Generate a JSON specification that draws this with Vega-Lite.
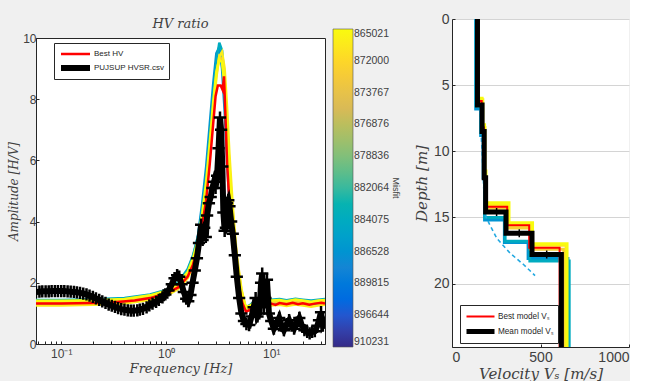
{
  "$schema": "https://vega.github.io/schema/vega-lite/v6.json",
  "background": "#f0f0f0",
  "padding": {"left": 7, "top": 9, "right": 0, "bottom": 0},
  "spacing": 14,
  "config": {
    "font": "Liberation Sans",
    "view": {"stroke": null},
    "axis": {"labelFont": "Liberation Sans", "labelColor": "#404040", "domainColor": "#262626", "tickColor": "#262626", "titleFont": "DejaVu Serif", "titleFontStyle": "italic", "titleFontWeight": "normal", "titleColor": "#404040", "grid": false, "labelOverlap": false},
    "legend": {"labelFont": "Liberation Sans", "labelColor": "#262626"}
  },
  "resolve": {"scale": {"stroke": "independent", "color": "independent", "strokeWidth": "independent", "x": "independent", "y": "independent"}},
  "datasets": {
    "ens": [
      {"id":"e5","m":3,"f":0.0575,"a":1.3},{"id":"e5","m":3,"f":0.1,"a":1.3},{"id":"e5","m":3,"f":0.2,"a":1.32},{"id":"e5","m":3,"f":0.4,"a":1.36},{"id":"e5","m":3,"f":0.7,"a":1.5},{"id":"e5","m":3,"f":1.0,"a":1.65},{"id":"e5","m":3,"f":1.3,"a":1.92},{"id":"e5","m":3,"f":1.6,"a":2.4},{"id":"e5","m":3,"f":1.8,"a":2.85},{"id":"e5","m":3,"f":2.0,"a":3.5},{"id":"e5","m":3,"f":2.2,"a":4.6},{"id":"e5","m":3,"f":2.4,"a":5.8},{"id":"e5","m":3,"f":2.6,"a":7.2},{"id":"e5","m":3,"f":2.8,"a":8.5},{"id":"e5","m":3,"f":3.0,"a":9.5},{"id":"e5","m":3,"f":3.2,"a":9.7},{"id":"e5","m":3,"f":3.4,"a":9.0},{"id":"e5","m":3,"f":3.6,"a":7.6},{"id":"e5","m":3,"f":3.8,"a":5.9},{"id":"e5","m":3,"f":4.0,"a":4.6},{"id":"e5","m":3,"f":4.3,"a":3.2},{"id":"e5","m":3,"f":4.7,"a":2.0},{"id":"e5","m":3,"f":5.2,"a":1.3},{"id":"e5","m":3,"f":5.7,"a":1.12},{"id":"e5","m":3,"f":6.3,"a":1.2},{"id":"e5","m":3,"f":7,"a":1.3},{"id":"e5","m":3,"f":8,"a":1.35},{"id":"e5","m":3,"f":9,"a":1.36},{"id":"e5","m":3,"f":10,"a":1.33},{"id":"e5","m":3,"f":12,"a":1.35},{"id":"e5","m":3,"f":14,"a":1.31},{"id":"e5","m":3,"f":17,"a":1.36},{"id":"e5","m":3,"f":20,"a":1.33},{"id":"e5","m":3,"f":24,"a":1.3},{"id":"e5","m":3,"f":28,"a":1.33},{"id":"e5","m":3,"f":32.5,"a":1.35},
      {"id":"e4","m":4,"f":0.0575,"a":1.44},{"id":"e4","m":4,"f":0.1,"a":1.44},{"id":"e4","m":4,"f":0.2,"a":1.46},{"id":"e4","m":4,"f":0.4,"a":1.5},{"id":"e4","m":4,"f":0.7,"a":1.62},{"id":"e4","m":4,"f":1.0,"a":1.77},{"id":"e4","m":4,"f":1.3,"a":2.02},{"id":"e4","m":4,"f":1.6,"a":2.45},{"id":"e4","m":4,"f":1.8,"a":2.9},{"id":"e4","m":4,"f":2.0,"a":3.5},{"id":"e4","m":4,"f":2.2,"a":4.4},{"id":"e4","m":4,"f":2.4,"a":5.5},{"id":"e4","m":4,"f":2.6,"a":6.8},{"id":"e4","m":4,"f":2.8,"a":8.1},{"id":"e4","m":4,"f":3.0,"a":9.2},{"id":"e4","m":4,"f":3.2,"a":9.85},{"id":"e4","m":4,"f":3.4,"a":9.6},{"id":"e4","m":4,"f":3.6,"a":8.6},{"id":"e4","m":4,"f":3.8,"a":6.9},{"id":"e4","m":4,"f":4.0,"a":5.4},{"id":"e4","m":4,"f":4.3,"a":3.7},{"id":"e4","m":4,"f":4.7,"a":2.4},{"id":"e4","m":4,"f":5.2,"a":1.5},{"id":"e4","m":4,"f":5.7,"a":1.2},{"id":"e4","m":4,"f":6.3,"a":1.28},{"id":"e4","m":4,"f":7,"a":1.42},{"id":"e4","m":4,"f":8,"a":1.47},{"id":"e4","m":4,"f":9,"a":1.48},{"id":"e4","m":4,"f":10,"a":1.45},{"id":"e4","m":4,"f":12,"a":1.47},{"id":"e4","m":4,"f":14,"a":1.43},{"id":"e4","m":4,"f":17,"a":1.48},{"id":"e4","m":4,"f":20,"a":1.45},{"id":"e4","m":4,"f":24,"a":1.42},{"id":"e4","m":4,"f":28,"a":1.45},{"id":"e4","m":4,"f":32.5,"a":1.47},
      {"id":"e3","m":8.6,"f":0.0575,"a":1.36},{"id":"e3","m":8.6,"f":0.1,"a":1.36},{"id":"e3","m":8.6,"f":0.2,"a":1.38},{"id":"e3","m":8.6,"f":0.4,"a":1.42},{"id":"e3","m":8.6,"f":0.7,"a":1.54},{"id":"e3","m":8.6,"f":1.0,"a":1.68},{"id":"e3","m":8.6,"f":1.3,"a":1.9},{"id":"e3","m":8.6,"f":1.6,"a":2.28},{"id":"e3","m":8.6,"f":1.8,"a":2.7},{"id":"e3","m":8.6,"f":2.0,"a":3.25},{"id":"e3","m":8.6,"f":2.2,"a":4.1},{"id":"e3","m":8.6,"f":2.4,"a":5.1},{"id":"e3","m":8.6,"f":2.6,"a":6.4},{"id":"e3","m":8.6,"f":2.8,"a":7.7},{"id":"e3","m":8.6,"f":3.0,"a":8.8},{"id":"e3","m":8.6,"f":3.2,"a":9.4},{"id":"e3","m":8.6,"f":3.4,"a":9.3},{"id":"e3","m":8.6,"f":3.6,"a":8.6},{"id":"e3","m":8.6,"f":3.8,"a":7.2},{"id":"e3","m":8.6,"f":4.0,"a":5.8},{"id":"e3","m":8.6,"f":4.3,"a":4.2},{"id":"e3","m":8.6,"f":4.7,"a":2.8},{"id":"e3","m":8.6,"f":5.2,"a":1.75},{"id":"e3","m":8.6,"f":5.7,"a":1.22},{"id":"e3","m":8.6,"f":6.3,"a":1.18},{"id":"e3","m":8.6,"f":7,"a":1.3},{"id":"e3","m":8.6,"f":8,"a":1.37},{"id":"e3","m":8.6,"f":9,"a":1.39},{"id":"e3","m":8.6,"f":10,"a":1.36},{"id":"e3","m":8.6,"f":12,"a":1.38},{"id":"e3","m":8.6,"f":14,"a":1.34},{"id":"e3","m":8.6,"f":17,"a":1.39},{"id":"e3","m":8.6,"f":20,"a":1.36},{"id":"e3","m":8.6,"f":24,"a":1.32},{"id":"e3","m":8.6,"f":28,"a":1.36},{"id":"e3","m":8.6,"f":32.5,"a":1.38},
      {"id":"e2","m":9.6,"f":0.0575,"a":1.26},{"id":"e2","m":9.6,"f":0.1,"a":1.26},{"id":"e2","m":9.6,"f":0.2,"a":1.28},{"id":"e2","m":9.6,"f":0.4,"a":1.32},{"id":"e2","m":9.6,"f":0.7,"a":1.44},{"id":"e2","m":9.6,"f":1.0,"a":1.57},{"id":"e2","m":9.6,"f":1.3,"a":1.8},{"id":"e2","m":9.6,"f":1.6,"a":2.15},{"id":"e2","m":9.6,"f":1.8,"a":2.55},{"id":"e2","m":9.6,"f":2.0,"a":3.1},{"id":"e2","m":9.6,"f":2.2,"a":3.9},{"id":"e2","m":9.6,"f":2.4,"a":4.9},{"id":"e2","m":9.6,"f":2.6,"a":6.1},{"id":"e2","m":9.6,"f":2.8,"a":7.5},{"id":"e2","m":9.6,"f":3.0,"a":8.7},{"id":"e2","m":9.6,"f":3.2,"a":9.4},{"id":"e2","m":9.6,"f":3.4,"a":9.55},{"id":"e2","m":9.6,"f":3.6,"a":9.0},{"id":"e2","m":9.6,"f":3.8,"a":7.7},{"id":"e2","m":9.6,"f":4.0,"a":6.2},{"id":"e2","m":9.6,"f":4.3,"a":4.5},{"id":"e2","m":9.6,"f":4.7,"a":2.9},{"id":"e2","m":9.6,"f":5.2,"a":1.8},{"id":"e2","m":9.6,"f":5.7,"a":1.2},{"id":"e2","m":9.6,"f":6.3,"a":1.08},{"id":"e2","m":9.6,"f":7,"a":1.2},{"id":"e2","m":9.6,"f":8,"a":1.27},{"id":"e2","m":9.6,"f":9,"a":1.29},{"id":"e2","m":9.6,"f":10,"a":1.26},{"id":"e2","m":9.6,"f":12,"a":1.28},{"id":"e2","m":9.6,"f":14,"a":1.24},{"id":"e2","m":9.6,"f":17,"a":1.29},{"id":"e2","m":9.6,"f":20,"a":1.26},{"id":"e2","m":9.6,"f":24,"a":1.22},{"id":"e2","m":9.6,"f":28,"a":1.26},{"id":"e2","m":9.6,"f":32.5,"a":1.28},
      {"id":"e1","m":10,"f":0.0575,"a":1.41},{"id":"e1","m":10,"f":0.1,"a":1.41},{"id":"e1","m":10,"f":0.2,"a":1.43},{"id":"e1","m":10,"f":0.4,"a":1.47},{"id":"e1","m":10,"f":0.7,"a":1.59},{"id":"e1","m":10,"f":1.0,"a":1.74},{"id":"e1","m":10,"f":1.3,"a":1.97},{"id":"e1","m":10,"f":1.6,"a":2.35},{"id":"e1","m":10,"f":1.8,"a":2.8},{"id":"e1","m":10,"f":2.0,"a":3.4},{"id":"e1","m":10,"f":2.2,"a":4.25},{"id":"e1","m":10,"f":2.4,"a":5.3},{"id":"e1","m":10,"f":2.6,"a":6.6},{"id":"e1","m":10,"f":2.8,"a":7.9},{"id":"e1","m":10,"f":3.0,"a":8.9},{"id":"e1","m":10,"f":3.2,"a":9.3},{"id":"e1","m":10,"f":3.4,"a":9.2},{"id":"e1","m":10,"f":3.6,"a":8.4},{"id":"e1","m":10,"f":3.8,"a":7.0},{"id":"e1","m":10,"f":4.0,"a":5.6},{"id":"e1","m":10,"f":4.3,"a":4.1},{"id":"e1","m":10,"f":4.7,"a":2.6},{"id":"e1","m":10,"f":5.2,"a":1.65},{"id":"e1","m":10,"f":5.7,"a":1.22},{"id":"e1","m":10,"f":6.3,"a":1.25},{"id":"e1","m":10,"f":7,"a":1.38},{"id":"e1","m":10,"f":8,"a":1.44},{"id":"e1","m":10,"f":9,"a":1.45},{"id":"e1","m":10,"f":10,"a":1.42},{"id":"e1","m":10,"f":12,"a":1.44},{"id":"e1","m":10,"f":14,"a":1.4},{"id":"e1","m":10,"f":17,"a":1.45},{"id":"e1","m":10,"f":20,"a":1.42},{"id":"e1","m":10,"f":24,"a":1.38},{"id":"e1","m":10,"f":28,"a":1.42},{"id":"e1","m":10,"f":32.5,"a":1.44}
    ],
    "hv": [
      {"s":"Best HV","f":0.0575,"a":1.32},{"s":"Best HV","f":0.1,"a":1.32},{"s":"Best HV","f":0.2,"a":1.34},{"s":"Best HV","f":0.3,"a":1.36},{"s":"Best HV","f":0.5,"a":1.42},{"s":"Best HV","f":0.7,"a":1.5},{"s":"Best HV","f":1.0,"a":1.65},{"s":"Best HV","f":1.3,"a":1.85},{"s":"Best HV","f":1.6,"a":2.2},{"s":"Best HV","f":1.8,"a":2.6},{"s":"Best HV","f":2.0,"a":3.15},{"s":"Best HV","f":2.2,"a":3.9},{"s":"Best HV","f":2.4,"a":4.7},{"s":"Best HV","f":2.6,"a":5.9},{"s":"Best HV","f":2.8,"a":7.2},{"s":"Best HV","f":2.95,"a":8.1},{"s":"Best HV","f":3.1,"a":8.45},{"s":"Best HV","f":3.3,"a":8.45},{"s":"Best HV","f":3.45,"a":8.3},{"s":"Best HV","f":3.55,"a":8.75},{"s":"Best HV","f":3.65,"a":7.6},{"s":"Best HV","f":3.8,"a":5.9},{"s":"Best HV","f":4.0,"a":4.6},{"s":"Best HV","f":4.2,"a":3.7},{"s":"Best HV","f":4.5,"a":2.7},{"s":"Best HV","f":4.9,"a":1.9},{"s":"Best HV","f":5.3,"a":1.35},{"s":"Best HV","f":5.75,"a":1.05},{"s":"Best HV","f":6.3,"a":1.12},{"s":"Best HV","f":7.0,"a":1.25},{"s":"Best HV","f":8.0,"a":1.32},{"s":"Best HV","f":9.0,"a":1.35},{"s":"Best HV","f":10,"a":1.32},{"s":"Best HV","f":11,"a":1.28},{"s":"Best HV","f":12,"a":1.34},{"s":"Best HV","f":14,"a":1.3},{"s":"Best HV","f":16,"a":1.35},{"s":"Best HV","f":18,"a":1.3},{"s":"Best HV","f":20,"a":1.33},{"s":"Best HV","f":23,"a":1.28},{"s":"Best HV","f":26,"a":1.32},{"s":"Best HV","f":30,"a":1.35},{"s":"Best HV","f":32.5,"a":1.32},
      {"s":"PUJSUP HVSR.csv","f":0.0575,"a":1.7},{"s":"PUJSUP HVSR.csv","f":0.062,"a":1.71},{"s":"PUJSUP HVSR.csv","f":0.066,"a":1.72},{"s":"PUJSUP HVSR.csv","f":0.071,"a":1.72},{"s":"PUJSUP HVSR.csv","f":0.076,"a":1.72},{"s":"PUJSUP HVSR.csv","f":0.081,"a":1.73},{"s":"PUJSUP HVSR.csv","f":0.087,"a":1.73},{"s":"PUJSUP HVSR.csv","f":0.093,"a":1.73},{"s":"PUJSUP HVSR.csv","f":0.1,"a":1.73},{"s":"PUJSUP HVSR.csv","f":0.107,"a":1.73},{"s":"PUJSUP HVSR.csv","f":0.115,"a":1.72},{"s":"PUJSUP HVSR.csv","f":0.123,"a":1.71},{"s":"PUJSUP HVSR.csv","f":0.132,"a":1.7},{"s":"PUJSUP HVSR.csv","f":0.141,"a":1.69},{"s":"PUJSUP HVSR.csv","f":0.151,"a":1.67},{"s":"PUJSUP HVSR.csv","f":0.162,"a":1.65},{"s":"PUJSUP HVSR.csv","f":0.174,"a":1.62},{"s":"PUJSUP HVSR.csv","f":0.186,"a":1.58},{"s":"PUJSUP HVSR.csv","f":0.2,"a":1.54},{"s":"PUJSUP HVSR.csv","f":0.214,"a":1.49},{"s":"PUJSUP HVSR.csv","f":0.23,"a":1.44},{"s":"PUJSUP HVSR.csv","f":0.246,"a":1.39},{"s":"PUJSUP HVSR.csv","f":0.264,"a":1.34},{"s":"PUJSUP HVSR.csv","f":0.283,"a":1.29},{"s":"PUJSUP HVSR.csv","f":0.303,"a":1.25},{"s":"PUJSUP HVSR.csv","f":0.325,"a":1.21},{"s":"PUJSUP HVSR.csv","f":0.348,"a":1.17},{"s":"PUJSUP HVSR.csv","f":0.373,"a":1.14},{"s":"PUJSUP HVSR.csv","f":0.4,"a":1.12},{"s":"PUJSUP HVSR.csv","f":0.43,"a":1.1},{"s":"PUJSUP HVSR.csv","f":0.46,"a":1.09},{"s":"PUJSUP HVSR.csv","f":0.49,"a":1.09},{"s":"PUJSUP HVSR.csv","f":0.53,"a":1.1},{"s":"PUJSUP HVSR.csv","f":0.56,"a":1.12},{"s":"PUJSUP HVSR.csv","f":0.6,"a":1.15},{"s":"PUJSUP HVSR.csv","f":0.65,"a":1.2},{"s":"PUJSUP HVSR.csv","f":0.69,"a":1.26},{"s":"PUJSUP HVSR.csv","f":0.74,"a":1.32},{"s":"PUJSUP HVSR.csv","f":0.8,"a":1.38},{"s":"PUJSUP HVSR.csv","f":0.85,"a":1.44},{"s":"PUJSUP HVSR.csv","f":0.92,"a":1.52},{"s":"PUJSUP HVSR.csv","f":0.98,"a":1.62},{"s":"PUJSUP HVSR.csv","f":1.05,"a":1.75},{"s":"PUJSUP HVSR.csv","f":1.13,"a":1.95},{"s":"PUJSUP HVSR.csv","f":1.2,"a":2.15},{"s":"PUJSUP HVSR.csv","f":1.27,"a":2.25},{"s":"PUJSUP HVSR.csv","f":1.33,"a":2.2},{"s":"PUJSUP HVSR.csv","f":1.4,"a":1.95},{"s":"PUJSUP HVSR.csv","f":1.47,"a":1.7},{"s":"PUJSUP HVSR.csv","f":1.55,"a":1.48},{"s":"PUJSUP HVSR.csv","f":1.62,"a":1.4},{"s":"PUJSUP HVSR.csv","f":1.7,"a":1.6},{"s":"PUJSUP HVSR.csv","f":1.78,"a":2.0},{"s":"PUJSUP HVSR.csv","f":1.87,"a":2.4},{"s":"PUJSUP HVSR.csv","f":1.96,"a":2.8},{"s":"PUJSUP HVSR.csv","f":2.05,"a":3.3},{"s":"PUJSUP HVSR.csv","f":2.15,"a":3.9},{"s":"PUJSUP HVSR.csv","f":2.22,"a":3.4},{"s":"PUJSUP HVSR.csv","f":2.3,"a":3.8},{"s":"PUJSUP HVSR.csv","f":2.38,"a":3.5},{"s":"PUJSUP HVSR.csv","f":2.45,"a":4.2},{"s":"PUJSUP HVSR.csv","f":2.55,"a":4.6},{"s":"PUJSUP HVSR.csv","f":2.65,"a":4.8},{"s":"PUJSUP HVSR.csv","f":2.75,"a":5.1},{"s":"PUJSUP HVSR.csv","f":2.85,"a":5.3},{"s":"PUJSUP HVSR.csv","f":2.95,"a":5.1},{"s":"PUJSUP HVSR.csv","f":3.05,"a":5.5},{"s":"PUJSUP HVSR.csv","f":3.15,"a":6.4},{"s":"PUJSUP HVSR.csv","f":3.25,"a":7.4},{"s":"PUJSUP HVSR.csv","f":3.33,"a":7.0},{"s":"PUJSUP HVSR.csv","f":3.42,"a":5.8},{"s":"PUJSUP HVSR.csv","f":3.5,"a":4.3},{"s":"PUJSUP HVSR.csv","f":3.6,"a":3.7},{"s":"PUJSUP HVSR.csv","f":3.7,"a":3.8},{"s":"PUJSUP HVSR.csv","f":3.8,"a":4.6},{"s":"PUJSUP HVSR.csv","f":3.9,"a":4.7},{"s":"PUJSUP HVSR.csv","f":4.0,"a":4.5},{"s":"PUJSUP HVSR.csv","f":4.15,"a":4.0},{"s":"PUJSUP HVSR.csv","f":4.3,"a":3.6},{"s":"PUJSUP HVSR.csv","f":4.5,"a":2.9},{"s":"PUJSUP HVSR.csv","f":4.7,"a":2.2},{"s":"PUJSUP HVSR.csv","f":4.95,"a":1.5},{"s":"PUJSUP HVSR.csv","f":5.2,"a":1.0},{"s":"PUJSUP HVSR.csv","f":5.5,"a":0.75},{"s":"PUJSUP HVSR.csv","f":5.8,"a":0.65},{"s":"PUJSUP HVSR.csv","f":6.15,"a":0.62},{"s":"PUJSUP HVSR.csv","f":6.5,"a":0.9},{"s":"PUJSUP HVSR.csv","f":6.8,"a":1.2},{"s":"PUJSUP HVSR.csv","f":7.1,"a":1.5},{"s":"PUJSUP HVSR.csv","f":7.4,"a":0.9},{"s":"PUJSUP HVSR.csv","f":7.7,"a":1.0},{"s":"PUJSUP HVSR.csv","f":8.0,"a":2.0},{"s":"PUJSUP HVSR.csv","f":8.2,"a":2.3},{"s":"PUJSUP HVSR.csv","f":8.5,"a":1.2},{"s":"PUJSUP HVSR.csv","f":8.8,"a":1.5},{"s":"PUJSUP HVSR.csv","f":9.1,"a":2.1},{"s":"PUJSUP HVSR.csv","f":9.5,"a":1.0},{"s":"PUJSUP HVSR.csv","f":10.0,"a":0.75},{"s":"PUJSUP HVSR.csv","f":10.6,"a":0.5},{"s":"PUJSUP HVSR.csv","f":11.2,"a":0.65},{"s":"PUJSUP HVSR.csv","f":11.9,"a":0.85},{"s":"PUJSUP HVSR.csv","f":12.5,"a":0.6},{"s":"PUJSUP HVSR.csv","f":13.2,"a":0.45},{"s":"PUJSUP HVSR.csv","f":14,"a":0.65},{"s":"PUJSUP HVSR.csv","f":14.8,"a":0.78},{"s":"PUJSUP HVSR.csv","f":15.6,"a":0.6},{"s":"PUJSUP HVSR.csv","f":16.5,"a":0.5},{"s":"PUJSUP HVSR.csv","f":17.5,"a":0.7},{"s":"PUJSUP HVSR.csv","f":18.5,"a":0.85},{"s":"PUJSUP HVSR.csv","f":19.6,"a":0.6},{"s":"PUJSUP HVSR.csv","f":20.7,"a":0.45},{"s":"PUJSUP HVSR.csv","f":22,"a":0.4},{"s":"PUJSUP HVSR.csv","f":23.2,"a":0.35},{"s":"PUJSUP HVSR.csv","f":24.5,"a":0.4},{"s":"PUJSUP HVSR.csv","f":26,"a":0.42},{"s":"PUJSUP HVSR.csv","f":27.5,"a":0.6},{"s":"PUJSUP HVSR.csv","f":28.5,"a":0.78},{"s":"PUJSUP HVSR.csv","f":29.8,"a":1.04},{"s":"PUJSUP HVSR.csv","f":31,"a":0.6},{"s":"PUJSUP HVSR.csv","f":32.5,"a":0.7}
    ],
    "prof": [
      {"id":"B","m":3,"v":134,"d":0},{"id":"B","m":3,"v":162,"d":6.8},{"id":"B","m":3,"v":176,"d":8.8},{"id":"B","m":3,"v":184,"d":12},{"id":"B","m":3,"v":296,"d":15.2},{"id":"B","m":3,"v":430,"d":16.9},{"id":"B","m":3,"v":655,"d":18.1},{"id":"B","m":3,"v":655,"d":24.8},
      {"id":"T","m":4,"v":136,"d":0},{"id":"T","m":4,"v":164,"d":6.6},{"id":"T","m":4,"v":178,"d":8.6},{"id":"T","m":4,"v":186,"d":12},{"id":"T","m":4,"v":300,"d":15.0},{"id":"T","m":4,"v":440,"d":16.8},{"id":"T","m":4,"v":662,"d":18.3},{"id":"T","m":4,"v":662,"d":24.8},
      {"id":"O","m":8.6,"v":140,"d":0},{"id":"O","m":8.6,"v":168,"d":6.2},{"id":"O","m":8.6,"v":182,"d":8.3},{"id":"O","m":8.6,"v":190,"d":12},{"id":"O","m":8.6,"v":315,"d":14.3},{"id":"O","m":8.6,"v":445,"d":15.8},{"id":"O","m":8.6,"v":632,"d":17.4},{"id":"O","m":8.6,"v":632,"d":24.8},
      {"id":"Y2","m":9.6,"v":146,"d":0},{"id":"Y2","m":9.6,"v":174,"d":6.1},{"id":"Y2","m":9.6,"v":186,"d":8.2},{"id":"Y2","m":9.6,"v":194,"d":12},{"id":"Y2","m":9.6,"v":318,"d":14.1},{"id":"Y2","m":9.6,"v":450,"d":15.6},{"id":"Y2","m":9.6,"v":645,"d":17.1},{"id":"Y2","m":9.6,"v":645,"d":24.8},
      {"id":"Y1","m":10,"v":142,"d":0},{"id":"Y1","m":10,"v":170,"d":6.0},{"id":"Y1","m":10,"v":184,"d":8.0},{"id":"Y1","m":10,"v":192,"d":11.5},{"id":"Y1","m":10,"v":322,"d":13.9},{"id":"Y1","m":10,"v":455,"d":15.4},{"id":"Y1","m":10,"v":650,"d":17.0},{"id":"Y1","m":10,"v":650,"d":24.8}
    ],
    "model": [
      {"s":"Best model Vₛ","v":140,"d":0},{"s":"Best model Vₛ","v":168,"d":6.2},{"s":"Best model Vₛ","v":180,"d":8.2},{"s":"Best model Vₛ","v":188,"d":12},{"s":"Best model Vₛ","v":312,"d":14.2},{"s":"Best model Vₛ","v":436,"d":15.6},{"s":"Best model Vₛ","v":608,"d":17.3},{"s":"Best model Vₛ","v":608,"d":24.8},
      {"s":"Mean model Vₛ","v":144,"d":0},{"s":"Mean model Vₛ","v":170,"d":6.5},{"s":"Mean model Vₛ","v":182,"d":8.5},{"s":"Mean model Vₛ","v":190,"d":12},{"s":"Mean model Vₛ","v":305,"d":14.6},{"s":"Mean model Vₛ","v":452,"d":16.2},{"s":"Mean model Vₛ","v":618,"d":17.8},{"s":"Mean model Vₛ","v":618,"d":24.8}
    ],
    "dash": [
      {"v":132,"d":0},{"v":150,"d":5},{"v":170,"d":10},{"v":186,"d":14.8},{"v":215,"d":15.6},{"v":254,"d":16.6},{"v":328,"d":17.7},{"v":407,"d":18.6},{"v":469,"d":19.4}
    ],
    "err": [
      {"v":252,"d":14.6},{"v":380,"d":16.2},{"v":535,"d":17.8}
    ],
    "ttl": [{"t": "HV ratio"}]
  },
  "hconcat": [
    {
      "spacing": 0,
      "vconcat": [
        {
          "width": 289,
          "height": 3,
          "data": {"name": "ttl"},
          "mark": {"type": "text", "font": "DejaVu Serif", "fontStyle": "italic", "fontSize": 13, "color": "#404040", "dy": 3.5, "baseline": "middle", "align": "center"},
          "encoding": {"text": {"field": "t", "type": "nominal"}}
        },
        {
          "width": 289,
          "height": 306,
          "view": {"fill": "white", "stroke": "#262626", "strokeWidth": 1},
          "layer": [
            {
              "data": {"name": "ens"},
              "mark": {"type": "line", "strokeWidth": 2.5, "clip": true},
              "encoding": {
                "x": {"field": "f", "type": "quantitative", "scale": {"type": "log", "domain": [0.0575, 32.5], "nice": false},
                  "axis": {"title": "Frequency [Hz]", "titleFontSize": 13, "titlePadding": 3, "labelFontSize": 12, "tickSize": -3, "labelPadding": 7,
                    "values": [0.06,0.07,0.08,0.09,0.1,0.2,0.3,0.4,0.5,0.6,0.7,0.8,0.9,1,2,3,4,5,6,7,8,9,10,20,30],
                    "labelExpr": "datum.value == 0.1 ? '10⁻¹' : datum.value == 1 ? '10⁰' : datum.value == 10 ? '10¹' : ''"}},
                "y": {"field": "a", "type": "quantitative", "scale": {"domain": [0, 10], "nice": false},
                  "axis": {"title": "Amplitude [H/V]", "titleFontSize": 12, "titlePadding": 2, "labelFontSize": 12, "tickSize": -3, "labelPadding": 3, "values": [0,1,2,3,4,5,6,7,8,9,10]}},
                "detail": {"field": "id", "type": "nominal"},
                "stroke": {"field": "m", "type": "quantitative",
                  "scale": {"domain": [0,1.25,2.5,3.75,5,6.25,7.5,8.75,10], "range": ["#352a87","#0363e1","#1485d4","#06a7c6","#38b99e","#92bf73","#d9ba56","#fcce2e","#f9fb0e"]},
                  "legend": {"orient": "none", "legendX": 297, "legendY": 10, "direction": "vertical", "type": "gradient", "gradientLength": 318, "gradientThickness": 20,
                    "gradientStrokeColor": "#555", "gradientStrokeWidth": 0.6, "values": [0,1,2,3,4,5,6,7,8,9,10],
                    "labelExpr": "['910231','896644','889815','886528','884075','882064','878836','876876','873767','872000','865021'][datum.value]",
                    "labelFontSize": 10.5, "labelOffset": 1, "labelColor": "#404040",
                    "title": "Misfit", "titleOrient": "right", "titleAnchor": "middle", "titleFontSize": 9, "titleFont": "Liberation Sans", "titleFontWeight": "normal", "titleColor": "#404040", "titlePadding": 2}},
                "order": {"field": "f", "type": "quantitative"}
              }
            },
            {
              "data": {"name": "hv"},
              "mark": {"type": "line", "clip": true},
              "encoding": {
                "x": {"field": "f", "type": "quantitative"},
                "y": {"field": "a", "type": "quantitative"},
                "color": {"field": "s", "type": "nominal", "scale": {"domain": ["Best HV", "PUJSUP HVSR.csv"], "range": ["#ff0000", "#000000"]},
                  "legend": {"orient": "none", "legendX": 18, "legendY": 24, "title": null, "symbolType": "stroke", "symbolSize": 841, "clipHeight": 14, "labelFontSize": 8, "fillColor": "white", "strokeColor": "#262626", "padding": 4, "rowPadding": 0, "labelOffset": 1}},
                "strokeWidth": {"field": "s", "type": "nominal", "scale": {"domain": ["Best HV", "PUJSUP HVSR.csv"], "range": [2.5, 6]},
                  "legend": {"orient": "none", "legendX": 18, "legendY": 24, "title": null, "symbolType": "stroke", "symbolSize": 841, "clipHeight": 14, "labelFontSize": 8, "fillColor": "white", "strokeColor": "#262626", "padding": 4, "rowPadding": 0, "labelOffset": 1}},
                "order": {"field": "f", "type": "quantitative"}
              }
            },
            {
              "data": {"name": "hv"},
              "transform": [{"filter": "datum.s === 'PUJSUP HVSR.csv'"}],
              "mark": {"type": "point", "shape": "M-1,0L1,0M0,-1L0,1", "filled": false, "stroke": "#000000", "strokeWidth": 2.5, "size": 150, "opacity": 1, "clip": true},
              "encoding": {
                "x": {"field": "f", "type": "quantitative"},
                "y": {"field": "a", "type": "quantitative"}
              }
            }
          ]
        }
      ]
    },
    {
      "width": 177,
      "height": 328,
      "view": {"fill": "white", "stroke": null},
      "encoding": {
        "x": {"field": "v", "type": "quantitative", "scale": {"domain": [0, 1000], "nice": false},
          "axis": {"title": "Velocity Vₛ [m/s]", "titleFontSize": 15, "titlePadding": 2, "labelFontSize": 14, "values": [0, 500, 1000], "format": "d", "tickSize": -3, "labelPadding": 6}},
        "y": {"field": "d", "type": "quantitative", "scale": {"domain": [0, 24.8], "reverse": true, "nice": false},
          "axis": {"title": "Depth [m]", "titleFontSize": 15, "titlePadding": 4, "labelFontSize": 14, "values": [0, 5, 10, 15, 20], "grid": true, "gridColor": "#d4d4d4", "tickSize": -3, "labelPadding": 6}}
      },
      "layer": [
        {
          "data": {"name": "prof"},
          "mark": {"type": "line", "interpolate": "step-before", "strokeWidth": 3},
          "encoding": {
            "detail": {"field": "id", "type": "nominal"},
            "order": {"field": "d", "type": "quantitative"},
            "stroke": {"field": "m", "type": "quantitative", "legend": null,
              "scale": {"domain": [0,1.25,2.5,3.75,5,6.25,7.5,8.75,10], "range": ["#352a87","#0363e1","#1485d4","#06a7c6","#38b99e","#92bf73","#d9ba56","#fcce2e","#f9fb0e"]}}
          }
        },
        {
          "data": {"name": "dash"},
          "mark": {"type": "line", "stroke": "#22a8e0", "strokeWidth": 1.6, "strokeDash": [4, 3]},
          "encoding": {"order": {"field": "d", "type": "quantitative"}}
        },
        {
          "data": {"name": "model"},
          "mark": {"type": "line", "interpolate": "step-before"},
          "encoding": {
            "detail": {"field": "s", "type": "nominal"},
            "order": {"field": "d", "type": "quantitative"},
            "color": {"field": "s", "type": "nominal", "scale": {"domain": ["Best model Vₛ", "Mean model Vₛ"], "range": ["#ff0000", "#000000"]},
              "legend": {"orient": "none", "legendX": 8, "legendY": 286, "title": null, "symbolType": "stroke", "symbolSize": 784, "clipHeight": 15, "labelFontSize": 8.2, "fillColor": "white", "strokeColor": "#262626", "padding": 4, "rowPadding": 0, "labelOffset": 1}},
            "strokeWidth": {"field": "s", "type": "nominal", "scale": {"domain": ["Best model Vₛ", "Mean model Vₛ"], "range": [2, 5]},
              "legend": {"orient": "none", "legendX": 8, "legendY": 286, "title": null, "symbolType": "stroke", "symbolSize": 784, "clipHeight": 15, "labelFontSize": 8.2, "fillColor": "white", "strokeColor": "#262626", "padding": 4, "rowPadding": 0, "labelOffset": 1}}
          }
        },
        {
          "data": {"name": "err"},
          "mark": {"type": "point", "shape": "M-1,0L1,0M0,-1L0,1", "filled": false, "stroke": "#000000", "strokeWidth": 1.5, "size": 64, "opacity": 1}
        }
      ]
    }
  ]
}
